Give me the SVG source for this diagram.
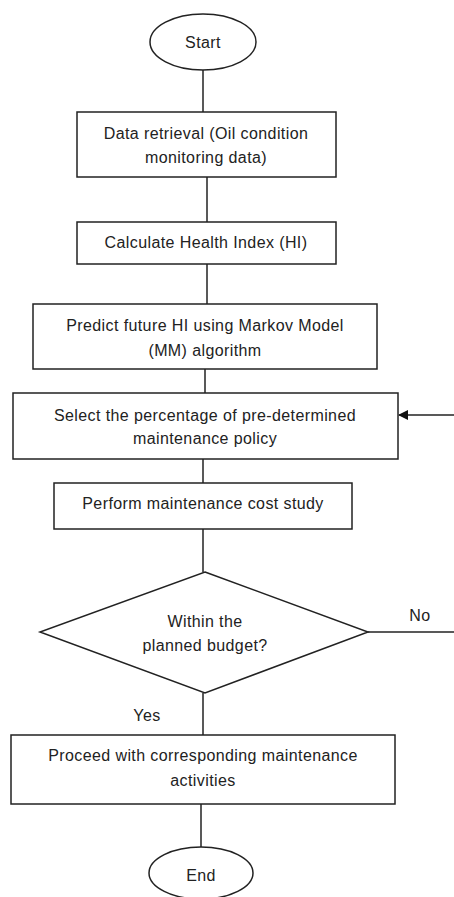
<svg xmlns="http://www.w3.org/2000/svg" width="454" height="897" viewBox="0 0 454 897">
<style>
.s{fill:#fff;stroke:#222;stroke-width:1.5}
.c{fill:none;stroke:#222;stroke-width:1.5}
text{font-family:"Liberation Sans",Arial,sans-serif;font-size:16px;letter-spacing:0.4px;fill:#222;text-anchor:middle;dominant-baseline:central}
</style>
<defs>
<marker id="ah" markerWidth="10" markerHeight="10" refX="9" refY="5" orient="auto" markerUnits="userSpaceOnUse">
<path d="M0,0 L10,5 L0,10 Z" fill="#111"/>
</marker>
</defs>
<rect width="454" height="897" fill="#fff"/>
<g id="connectors">
<line class="c" x1="203" y1="70" x2="203" y2="112"/>
<line class="c" x1="207" y1="177" x2="207" y2="222"/>
<line class="c" x1="207" y1="264" x2="207" y2="304"/>
<line class="c" x1="205" y1="369" x2="205" y2="393"/>
<line class="c" x1="203" y1="459" x2="203" y2="483"/>
<line class="c" x1="203" y1="529" x2="203" y2="572"/>
<line class="c" x1="203" y1="693" x2="203" y2="735"/>
<line class="c" x1="201" y1="804" x2="201" y2="847"/>
<line class="c" x1="368" y1="632" x2="454" y2="632"/>
<line class="c" x1="454" y1="415" x2="399" y2="415" marker-end="url(#ah)"/>
<text x="420" y="615">No</text>
<text x="147" y="715">Yes</text>
</g>
<g id="start">
<ellipse class="s" cx="203" cy="42" rx="53" ry="28"/>
<text x="203" y="42">Start</text>
</g>
<g id="data">
<rect class="s" x="77" y="112" width="259" height="65"/>
<text x="206" y="133">Data retrieval (Oil condition</text>
<text x="206" y="157">monitoring data)</text>
</g>
<g id="hi">
<rect class="s" x="77" y="222" width="259" height="42"/>
<text x="206" y="242">Calculate Health Index (HI)</text>
</g>
<g id="predict">
<rect class="s" x="33" y="304" width="344" height="65"/>
<text x="205" y="325">Predict future HI using Markov Model</text>
<text x="205" y="350">(MM) algorithm</text>
</g>
<g id="select">
<rect class="s" x="13" y="393" width="385" height="66"/>
<text x="205" y="415">Select the percentage of pre-determined</text>
<text x="205" y="438">maintenance policy</text>
</g>
<g id="cost">
<rect class="s" x="54" y="483" width="298" height="46"/>
<text x="203" y="503">Perform maintenance cost study</text>
</g>
<g id="budget">
<polygon class="s" points="205,572 368,632 205,693 40,632"/>
<text x="205" y="621">Within the</text>
<text x="205" y="645">planned budget?</text>
</g>
<g id="proceed">
<rect class="s" x="11" y="735" width="384" height="69"/>
<text x="203" y="755">Proceed with corresponding maintenance</text>
<text x="203" y="780">activities</text>
</g>
<g id="end">
<ellipse class="s" cx="201" cy="873" rx="52" ry="26"/>
<text x="201" y="875">End</text>
</g>
</svg>
